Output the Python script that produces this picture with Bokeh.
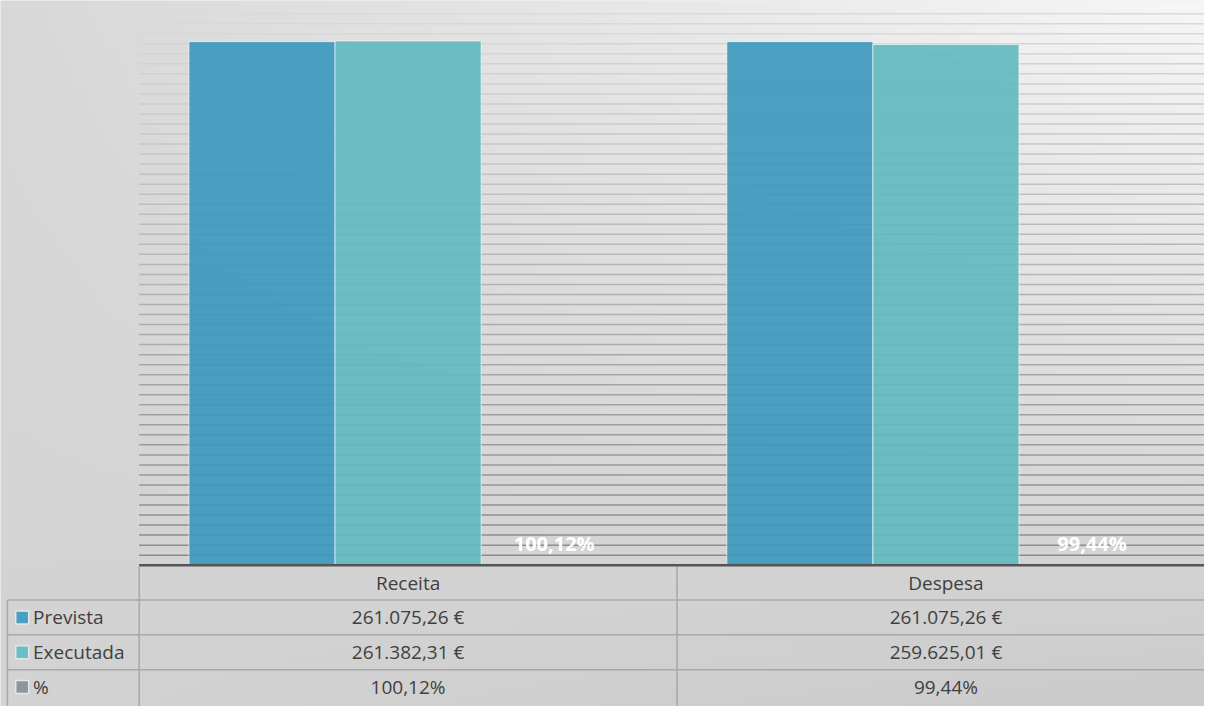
import numpy as np
from bokeh.plotting import figure
from bokeh.models import Range1d
from bokeh.core.properties import value
from bokeh.embed import file_html
from bokeh.resources import INLINE

# ---------------- data ----------------
categories = ["Receita", "Despesa"]
series_names = ["Prevista", "Executada", "%"]
prevista = [261075.26, 261075.26]
executada = [261382.31, 259625.01]
percent = [100.12, 99.44]

# ---------------- styles ----------------
colors = ["#3a98bc", "#5fb9bf", "#7f9599"]
legend_colors = ["#4aa0c1", "#6cbec4", "#889a9d"]
FONT = value("Open Sans")
TEXT_COLOR = "#404040"

# ---------------- layout (reference proportions) ----------------
W, H = 1204, 706
RW, RH = 1220.0, 722.0
CAT_PX = 545.0          # width of one category column
LEFT_PX = 140.5         # left edge of plot area
AXIS_PX = 577.5         # y of category axis
TOP_GRID_PX = 13.5      # y of axis maximum
AXIS_MAX = 275000
MINOR = 5000
ROW_PX = 35.6           # table row height
BAR_W = 148.0 / CAT_PX
HEAD_LEFT = (7.0 - LEFT_PX) / CAT_PX
SQ_X = (22.0 - LEFT_PX) / CAT_PX
LBL_X = (33.0 - LEFT_PX) / CAT_PX

x_start = -LEFT_PX / CAT_PX
x_end = (RW - LEFT_PX) / CAT_PX
k = (AXIS_PX - TOP_GRID_PX) / AXIS_MAX
y_start = -(RH - AXIS_PX) / k
y_end = AXIS_PX / k
r_start = (RH - AXIS_PX) / ROW_PX
r_end = -AXIS_PX / ROW_PX


def fmt_eur(v):
    s = f"{v:,.2f}".replace(",", "X").replace(".", ",").replace("X", ".")
    return s + " €"


def fmt_pct(v):
    return f"{v:.2f}".replace(".", ",") + "%"


p = figure(width=W, height=H, x_range=Range1d(x_start, x_end),
           y_range=Range1d(y_start, y_end), output_backend="svg",
           toolbar_location=None, x_axis_location=None, y_axis_location=None,
           min_border=0)
p.extra_y_ranges = {"rows": Range1d(r_start, r_end)}
for g in p.grid:
    g.visible = False
p.outline_line_color = None
p.background_fill_color = "#e2e2e2"
p.border_fill_color = "#e2e2e2"

# background gradient
gh, gw = 80, 140
u = np.linspace(0, 1, gw)[None, :]
v = np.linspace(0, 1, gh)[:, None]
TL, TR, BL, BR = 216, 246, 211, 203
val = TL * (1 - u) * v + TR * u * v + BL * (1 - u) * (1 - v) + BR * u * (1 - v)
rgba = np.empty((gh, gw, 4), dtype=np.uint8)
rgba[..., 0] = val
rgba[..., 1] = val
rgba[..., 2] = val
rgba[..., 3] = 255
img = rgba.view(np.uint32).reshape(gh, gw)
p.image_rgba(image=[img], x=x_start, y=y_start, dw=x_end - x_start, dh=y_end - y_start)

# minor gridlines with a vertical tone change
ticks = np.arange(MINOR, AXIS_MAX + 1, MINOR)
tvals = ticks / AXIS_MAX
gcol = []
for t in tvals:
    c = int(138 + (218 - 138) * t)
    gcol.append(f"#{c:02x}{c:02x}{c:02x}")
p.segment(x0=[0.0] * len(ticks), y0=ticks, x1=[x_end] * len(ticks), y1=ticks,
          line_color=gcol, line_width=1.5)

# bars
all_series = [prevista, executada, [pv / 100.0 for pv in percent]]
for j, vals in enumerate(all_series):
    xs = [i + 0.5 + (j - 1) * BAR_W for i in range(len(categories))]
    p.vbar(x=xs, top=vals, bottom=0, width=BAR_W, fill_color=colors[j],
           fill_alpha=0.9, line_color="white", line_alpha=0.6, line_width=1)

# percent labels (white, bold)
xs_pct = [i + 0.5 + BAR_W for i in range(len(categories))]
p.text(x=xs_pct, y=[0.0] * len(categories), text=[fmt_pct(v) for v in percent],
       text_color="white", text_font=FONT, text_font_style="bold",
       text_font_size="20px", text_align="center", text_baseline="middle",
       y_offset=-22)

# category axis line
p.segment(x0=[0.0], y0=[0.0], x1=[x_end], y1=[0.0], line_color="#555555", line_width=2.5)

# data table grid
TL_COLOR = "#a8a8a8"
for r in [1, 2, 3]:
    p.segment(x0=[HEAD_LEFT], y0=[r], x1=[x_end], y1=[r], line_color=TL_COLOR,
              line_width=1.5, y_range_name="rows")
p.segment(x0=[HEAD_LEFT, 0.0, 1.0], y0=[1, 0.05, 0.05],
          x1=[HEAD_LEFT, 0.0, 1.0], y1=[r_start] * 3,
          line_color=TL_COLOR, line_width=1.5, y_range_name="rows")

# header row
p.text(x=[i + 0.5 for i in range(len(categories))], y=[0.5] * len(categories),
       text=categories, text_color=TEXT_COLOR, text_font=FONT, text_font_size="19px",
       text_align="center", text_baseline="middle", y_range_name="rows")

# row headers with legend keys
rows_y = [1.5, 2.5, 3.5]
p.scatter(x=[SQ_X] * 3, y=rows_y, marker="square", size=13, fill_color=legend_colors,
          line_color="#e6e6e6", line_width=1.5, y_range_name="rows")
p.text(x=[LBL_X] * 3, y=rows_y, text=series_names, text_color=TEXT_COLOR,
       text_font=FONT, text_font_size="19px", text_align="left",
       text_baseline="middle", y_range_name="rows")

# values
row_texts = [[fmt_eur(v) for v in prevista], [fmt_eur(v) for v in executada],
             [fmt_pct(v) for v in percent]]
for ry, texts in zip(rows_y, row_texts):
    p.text(x=[i + 0.5 for i in range(len(categories))], y=[ry] * len(categories),
           text=texts, text_color=TEXT_COLOR, text_font=FONT, text_font_size="19px",
           text_align="center", text_baseline="middle", y_range_name="rows")

open("out.html", "w").write(file_html(p, INLINE))
